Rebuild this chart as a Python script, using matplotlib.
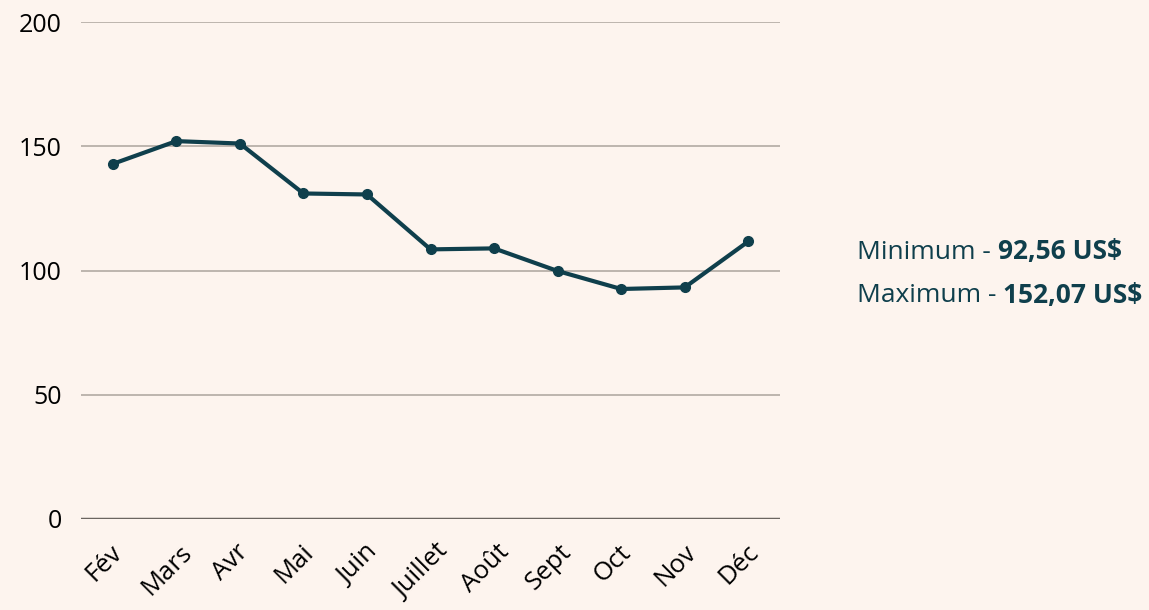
import matplotlib.pyplot as plt
from matplotlib.transforms import ScaledTranslation

# data
months = ["Fév", "Mars", "Avr", "Mai", "Juin", "Juillet", "Août", "Sept", "Oct", "Nov", "Déc"]
prices = [142.9, 152.07, 151.1, 131.0, 130.6, 108.5, 108.9, 99.8, 92.56, 93.2, 111.7]
yticks = [0, 50, 100, 150, 200]
min_label = "92,56 US$"
max_label = "152,07 US$"

bg = "#fdf4ee"
teal = "#0f3f4c"

plt.rcParams['font.family'] = ['Open Sans', 'DejaVu Sans']

fig = plt.figure(figsize=(11.49, 6.10), dpi=100, facecolor=bg)
ax = fig.add_axes([0.0705, 0.1492, 0.6084, 0.8147], facecolor=bg)

x = list(range(len(months)))
ax.plot(x, prices, color=teal, lw=3, marker="o", ms=7, zorder=3,
        solid_capstyle="round")

ax.set_xlim(-0.5, len(months) - 0.5)
ax.set_ylim(0, 200)
ax.set_yticks(yticks)
ax.set_yticklabels([str(v) for v in yticks], fontsize=18)
ax.tick_params(axis="y", length=0, pad=14, colors="black")
ax.tick_params(axis="x", length=0, pad=15)

for v in yticks[1:]:
    ax.axhline(v, color="#bdb5ae", lw=1.4, zorder=1)
ax.axhline(0, color="#6b6560", lw=2.5, zorder=2)

for s in ax.spines.values():
    s.set_visible(False)

ax.set_xticks(x)
ax.set_xticklabels(months, fontsize=18.5, rotation=45, ha="center")
offset = ScaledTranslation(-9 / 100, 0, fig.dpi_scale_trans)
for lab in ax.get_xticklabels():
    lab.set_transform(lab.get_transform() + offset)

# min / max annotations on the right
t1 = fig.text(857 / 1149, 1 - 253 / 610, "Minimum - ", color=teal, fontsize=19,
              va="center", ha="left")
ax.annotate(min_label, xy=(1, 0), xycoords=t1, va="bottom", ha="left",
            color=teal, fontsize=19, fontweight="bold")
t2 = fig.text(857 / 1149, 1 - 296 / 610, "Maximum - ", color=teal, fontsize=19,
              va="center", ha="left")
ax.annotate(max_label, xy=(1, 0), xycoords=t2, va="bottom", ha="left",
            color=teal, fontsize=19, fontweight="bold")

fig.savefig("out.png", dpi=100, facecolor=bg)
